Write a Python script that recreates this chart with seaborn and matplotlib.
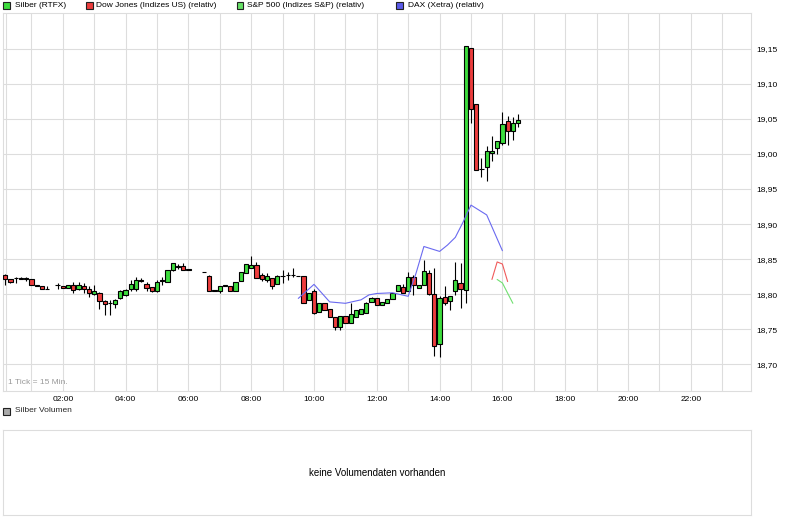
import numpy as np
import pandas as pd
import matplotlib
matplotlib.use("Agg")
import matplotlib.pyplot as plt
from matplotlib.patches import Rectangle
import seaborn as sns

# ---------------- data ----------------
candle_time = ["00:10", "00:20", "00:30", "00:40", "00:50", "01:00", "01:10", "01:20", "01:30",
               "01:50", "02:00", "02:10", "02:20", "02:30", "02:40", "02:50", "03:00", "03:10",
               "03:20", "03:30", "03:40", "03:50", "04:00", "04:10", "04:20", "04:30", "04:40",
               "04:50", "05:00", "05:10", "05:20", "05:30", "05:40", "05:50", "06:00",
               "06:30", "06:40", "06:50", "07:00", "07:10", "07:20", "07:30", "07:40", "07:50",
               "08:00", "08:10", "08:20", "08:30", "08:40", "08:50", "09:00", "09:10", "09:20",
               "09:30", "09:40", "09:50", "10:00", "10:10", "10:20", "10:30", "10:40", "10:50",
               "11:00", "11:10", "11:20", "11:30", "11:40", "11:50", "12:00", "12:10", "12:20",
               "12:30", "12:40", "12:50", "13:00", "13:10", "13:20", "13:30", "13:40", "13:50",
               "14:00", "14:10", "14:20", "14:30", "14:40", "14:50", "15:00", "15:10", "15:20",
               "15:30", "15:40", "15:50", "16:00", "16:10", "16:20", "16:30"]
open_ = [18.827, 18.821, 18.823, 18.822, 18.822, 18.821, 18.812, 18.811, 18.807,
         18.813, 18.812, 18.809, 18.813, 18.807, 18.812, 18.807, 18.800, 18.802,
         18.791, 18.787, 18.786, 18.794, 18.799, 18.808, 18.808, 18.819, 18.815,
         18.810, 18.804, 18.819, 18.818, 18.834, 18.839, 18.840, 18.835,
         18.831, 18.826, 18.805, 18.805, 18.812, 18.812, 18.804, 18.819, 18.830,
         18.837, 18.842, 18.827, 18.820, 18.823, 18.815, 18.826, 18.827, 18.827,
         18.826, 18.826, 18.792, 18.805, 18.774, 18.787, 18.779, 18.767, 18.753,
         18.769, 18.759, 18.767, 18.772, 18.773, 18.789, 18.795, 18.785, 18.788,
         18.793, 18.804, 18.810, 18.804, 18.825, 18.809, 18.813, 18.830, 18.800,
         18.729, 18.796, 18.791, 18.804, 18.816, 18.806, 19.151, 19.071, 18.978,
         18.981, 19.001, 19.008, 19.016, 19.047, 19.032, 19.044]
high = [18.829, 18.822, 18.824, 18.824, 18.824, 18.822, 18.813, 18.811, 18.812,
        18.816, 18.812, 18.813, 18.817, 18.817, 18.816, 18.812, 18.813, 18.803,
        18.792, 18.792, 18.793, 18.806, 18.807, 18.820, 18.825, 18.823, 18.818,
        18.810, 18.820, 18.824, 18.835, 18.845, 18.843, 18.844, 18.835,
        18.831, 18.827, 18.805, 18.812, 18.812, 18.812, 18.817, 18.831, 18.843,
        18.854, 18.846, 18.830, 18.830, 18.823, 18.827, 18.834, 18.832, 18.837,
        18.826, 18.826, 18.802, 18.807, 18.787, 18.787, 18.779, 18.767, 18.769,
        18.769, 18.788, 18.778, 18.779, 18.789, 18.796, 18.795, 18.789, 18.793,
        18.802, 18.813, 18.814, 18.832, 18.827, 18.813, 18.849, 18.835, 18.837,
        18.797, 18.811, 18.798, 18.846, 18.844, 19.154, 19.151, 19.071, 18.994,
        19.011, 19.025, 19.018, 19.060, 19.054, 19.052, 19.057]
low = [18.813, 18.816, 18.816, 18.822, 18.819, 18.813, 18.812, 18.807, 18.807,
       18.807, 18.809, 18.809, 18.801, 18.806, 18.801, 18.796, 18.799, 18.779,
       18.770, 18.770, 18.781, 18.793, 18.797, 18.804, 18.804, 18.817, 18.804,
       18.803, 18.803, 18.813, 18.817, 18.833, 18.836, 18.834, 18.834,
       18.831, 18.805, 18.805, 18.802, 18.812, 18.804, 18.804, 18.819, 18.830,
       18.837, 18.823, 18.819, 18.818, 18.808, 18.815, 18.816, 18.820, 18.824,
       18.826, 18.787, 18.792, 18.772, 18.774, 18.777, 18.767, 18.749, 18.749,
       18.759, 18.759, 18.767, 18.772, 18.773, 18.789, 18.785, 18.785, 18.788,
       18.793, 18.804, 18.802, 18.804, 18.799, 18.809, 18.813, 18.799, 18.712,
       18.711, 18.785, 18.777, 18.799, 18.780, 18.787, 19.044, 18.977, 18.967,
       18.962, 18.990, 19.000, 19.013, 19.013, 19.020, 19.039]
close = [18.821, 18.817, 18.823, 18.822, 18.822, 18.813, 18.812, 18.807, 18.807,
         18.813, 18.809, 18.813, 18.806, 18.813, 18.807, 18.801, 18.804, 18.791,
         18.786, 18.787, 18.792, 18.804, 18.806, 18.815, 18.820, 18.819, 18.809,
         18.804, 18.817, 18.819, 18.834, 18.844, 18.839, 18.835, 18.835,
         18.831, 18.805, 18.805, 18.812, 18.812, 18.804, 18.817, 18.831, 18.843,
         18.842, 18.823, 18.821, 18.826, 18.811, 18.826, 18.826, 18.827, 18.827,
         18.826, 18.787, 18.802, 18.773, 18.787, 18.777, 18.767, 18.753, 18.769,
         18.759, 18.772, 18.778, 18.779, 18.788, 18.794, 18.785, 18.789, 18.793,
         18.802, 18.813, 18.802, 18.824, 18.813, 18.813, 18.833, 18.800, 18.726,
         18.794, 18.787, 18.798, 18.820, 18.807, 19.154, 19.064, 18.977, 18.978,
         19.004, 19.004, 19.018, 19.042, 19.032, 19.044, 19.048]

dax_time = ["09:30", "10:00", "10:30", "11:00", "11:30", "11:45", "12:00", "12:30", "13:00",
            "13:15", "13:30", "14:00", "14:15", "14:30", "14:45", "15:00", "15:30", "16:00"]
dax_value = [18.794, 18.814, 18.789, 18.787, 18.792, 18.799, 18.801, 18.802, 18.797,
             18.830, 18.868, 18.861, 18.870, 18.881, 18.903, 18.927, 18.913, 18.862]
dow_time = ["15:40", "15:50", "16:00", "16:10"]
dow_value = [18.821, 18.846, 18.843, 18.818]
sp_time = ["15:50", "16:00", "16:20"]
sp_value = [18.821, 18.816, 18.787]

y_ticks = [18.70, 18.75, 18.80, 18.85, 18.90, 18.95, 19.00, 19.05, 19.10, 19.15]
x_tick_hours = [2, 4, 6, 8, 10, 12, 14, 16, 18, 20, 22]
x_tick_labels = ["02:00", "04:00", "06:00", "08:00", "10:00", "12:00",
                 "14:00", "16:00", "18:00", "20:00", "22:00"]

legend_labels = ["Silber (RTFX)", "Dow Jones (Indizes US) (relativ)",
                 "S&P 500 (Indizes S&P) (relativ)", "DAX (Xetra) (relativ)"]


def to_hours(t):
    hh, mm = t.split(":")
    return int(hh) + int(mm) / 60.0


# ---------------- style ----------------
sns.set_style("white")
plt.rcParams['font.family'] = ['Liberation Sans', 'DejaVu Sans']

GREEN = "#3ddc3d"
RED = "#ec3d3d"
GRID = "#dddddd"

W, H = 792, 526
fig = plt.figure(figsize=(W / 100, H / 100), dpi=100)
fig.patch.set_facecolor("white")


def fx(px):
    return px / W


def fy(py):
    return 1 - py / H


ax_left, ax_right, ax_top, ax_bot = 3, 751, 13, 390.7
ax = fig.add_axes([fx(ax_left), fy(ax_bot), (ax_right - ax_left) / W, (ax_bot - ax_top) / H])
ax.set_xlim(ax_left / 31.4, ax_right / 31.4)
ax.set_ylim(18.6624, 19.2009)

# grid
for h in range(1, 24):
    ax.axvline(h, color=GRID, lw=0.8, zorder=0)
ax.axvline(6 / 31.4, color=GRID, lw=0.8, zorder=0)
ax.set_yticks(y_ticks)
ax.yaxis.grid(True, color=GRID, lw=0.8, zorder=0)
ax.set_axisbelow(True)

# candles
df = pd.DataFrame({"t": [to_hours(t) for t in candle_time], "o": open_, "h": high,
                   "l": low, "c": close})
body_bottom = np.minimum(df["o"], df["c"])
body_height = np.maximum(np.abs(df["c"] - df["o"]), 0.0006)
colors = [GREEN if c > o else (RED if c < o else "black") for o, c in zip(df["o"], df["c"])]
ax.vlines(df["t"], df["l"], df["h"], color="black", lw=0.8, zorder=2)
ax.bar(df["t"], body_height, width=0.135, bottom=body_bottom, color=colors,
       edgecolor="black", linewidth=0.8, zorder=3)

# index lines
dax_df = pd.DataFrame({"t": [to_hours(t) for t in dax_time], "v": dax_value})
dow_df = pd.DataFrame({"t": [to_hours(t) for t in dow_time], "v": dow_value})
sp_df = pd.DataFrame({"t": [to_hours(t) for t in sp_time], "v": sp_value})
sns.lineplot(data=dax_df, x="t", y="v", ax=ax, color="#6a6af0", lw=0.8, legend=False, zorder=4)
sns.lineplot(data=dow_df, x="t", y="v", ax=ax, color="#f05a5a", lw=0.8, legend=False, zorder=4)
sns.lineplot(data=sp_df, x="t", y="v", ax=ax, color="#70e070", lw=0.8, legend=False, zorder=4)

ax.set_xlabel("")
ax.set_ylabel("")

# axes ticks
ax.yaxis.tick_right()
ax.set_yticklabels([f"{v:.2f}".replace(".", ",") for v in y_ticks])
ax.tick_params(axis="y", length=0, pad=4, labelsize=6, colors="black")
ax.set_xticks(x_tick_hours)
ax.set_xticklabels(x_tick_labels)
ax.set_xticks(range(1, 24), minor=True)
ax.tick_params(axis="x", which="both", length=2.5, width=0.8, color="#cccccc",
               direction="out", labelsize=6, pad=1.5, labelcolor="black")
ax.tick_params(axis="x", which="minor", labelbottom=False)
for s in ax.spines.values():
    s.set_color(GRID)
    s.set_linewidth(0.8)

ax.text(fx(8), fy(382.5), "1 Tick = 15 Min.", transform=fig.transFigure,
        fontsize=6, color="#999999", ha="left", va="center")

# top legend
legend_colors = [GREEN, RED, "#66e066", "#5a5ae8"]
square_x = [3, 86, 236.5, 395.5]
text_x = [15, 96, 247, 407.5]
for lab, col, sx, tx in zip(legend_labels, legend_colors, square_x, text_x):
    fig.add_artist(Rectangle((fx(sx), fy(8.8)), 7 / W, 7 / H, transform=fig.transFigure,
                             facecolor=col, edgecolor="#222222", lw=0.8))
    fig.text(fx(tx), fy(5.5), lab, fontsize=6, ha="left", va="center", color="black")

# volume legend
fig.add_artist(Rectangle((fx(3), fy(414.5)), 7 / W, 7 / H, transform=fig.transFigure,
                         facecolor="#aaaaaa", edgecolor="#222222", lw=0.8))
fig.text(fx(15), fy(411), "Silber Volumen", fontsize=6, ha="left", va="center")

# volume panel
ax2 = fig.add_axes([fx(3), fy(515), (751 - 3) / W, (515 - 430) / H])
ax2.set_xticks([])
ax2.set_yticks([])
for s in ax2.spines.values():
    s.set_color(GRID)
    s.set_linewidth(0.8)
ax2.text(0.5, 0.5, "keine Volumendaten vorhanden", transform=ax2.transAxes,
         ha="center", va="center", fontsize=7, color="black")

fig.savefig("out.png", dpi=100)
